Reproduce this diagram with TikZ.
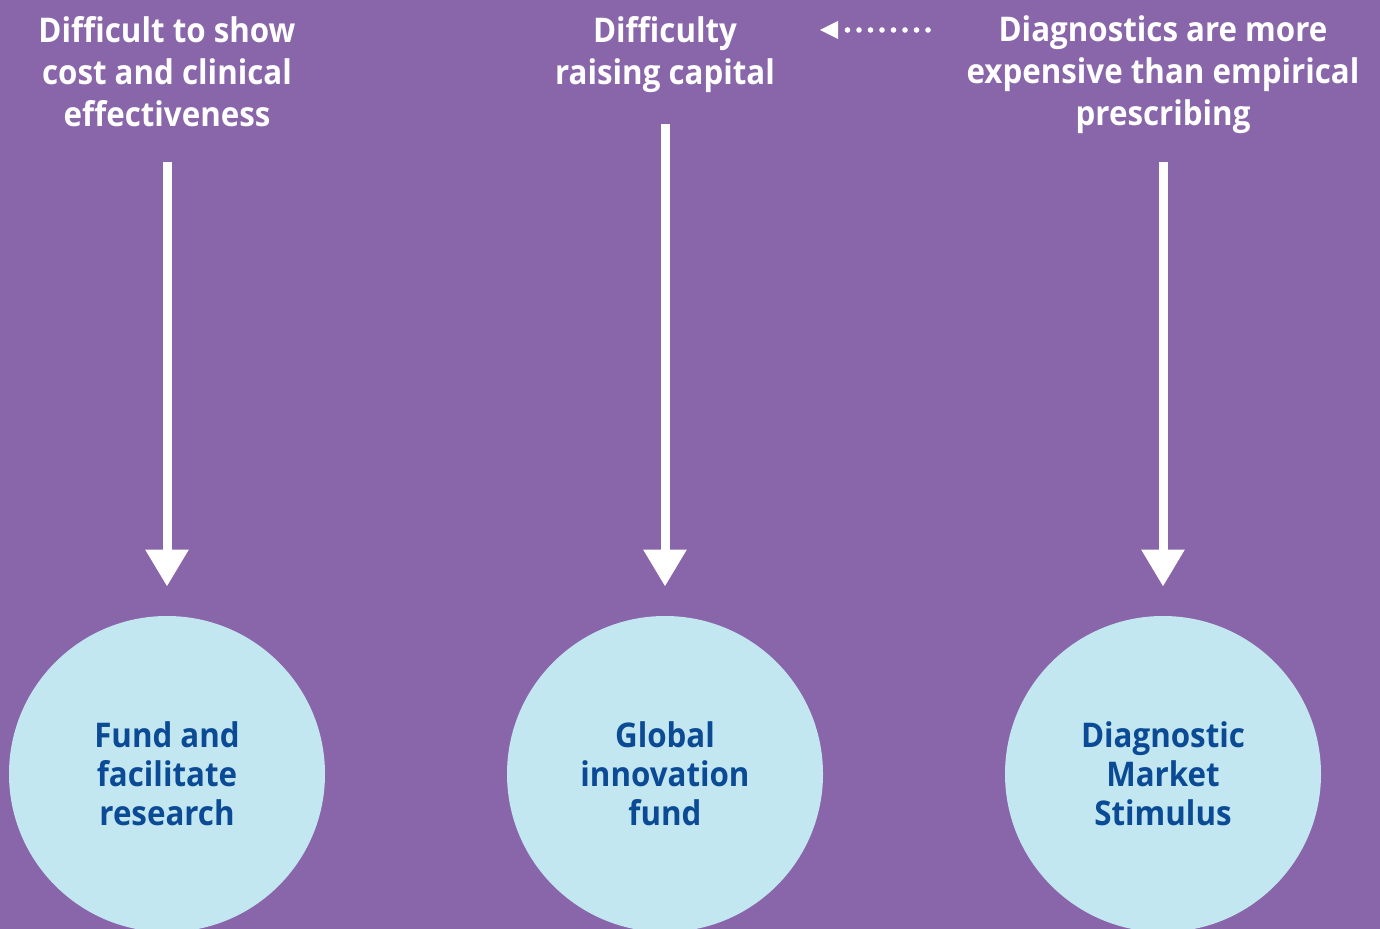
\documentclass[tikz,border=0pt]{standalone}
\usepackage{fontspec}
\setmainfont[FakeStretch=0.92]{Open Sans}
\usepackage[]{xcolor}
\usetikzlibrary{arrows.meta, calc}
\definecolor{bgPurple}{RGB}{137,101,169}
\definecolor{bubbleBlue}{RGB}{194,231,240}
\definecolor{inkBlue}{RGB}{11,74,148}
\newcommand{\bigArrow}{{Triangle[length=18.5pt, width=20.5pt]}}

\begin{document}
\begin{tikzpicture}[x=0.5pt, y=-0.5pt, font=\bfseries\fontsize{17}{21}\selectfont]
	\def\R{158}

	\fill[bgPurple] (0,0) rectangle (1380,929);
	\useasboundingbox (0,0) rectangle (1380,929);

	% problems along the top
	\node[text=white, align=center, anchor=north] (P1) at (167,9)	{Difficult to show\\cost and clinical\\effectiveness};
	\node[text=white, align=center, anchor=north] (P2) at (665,9)	{Difficulty\\raising capital};
	\node[text=white, align=center, anchor=north] (P3) at (1163,9)	{Diagnostics are more\\expensive than empirical\\prescribing};

	% answers in the circles
	\foreach \name/\x/\txt in {C1/167/{Fund and\\facilitate\\research}, C2/665/{Global\\innovation\\fund}, C3/1163/{Diagnostic\\Market\\Stimulus}} {
		\node[circle, fill=bubbleBlue, minimum size=2*\R*0.5pt, inner sep=0pt, text=inkBlue, align=center,
			font=\bfseries\fontsize{17}{19.5}\selectfont] (\name) at (\x,774) {\txt};
	}

	\coordinate (S1) at (167,162);
	\coordinate (S2) at (665,124);
	\coordinate (S3) at (1163,162);
	\foreach \i in {1,2,3} {
		\draw[white, line width=4.5pt, -\bigArrow, shorten >=14.5pt]	(S\i) -- (C\i.north);
	}

	% dotted link between the two right problems
	\coordinate (D1) at (928,30);
	\coordinate (D2) at (820,30);
	\draw[white, line width=2.8pt, line cap=round, dash pattern=on 0pt off 5.75pt]	(D1) -- ($(D2)+(22,0)$);
	\fill[white]	(D2) -- ++(18,-9) -- ++(0,18) -- cycle;

\end{tikzpicture}
\end{document}
